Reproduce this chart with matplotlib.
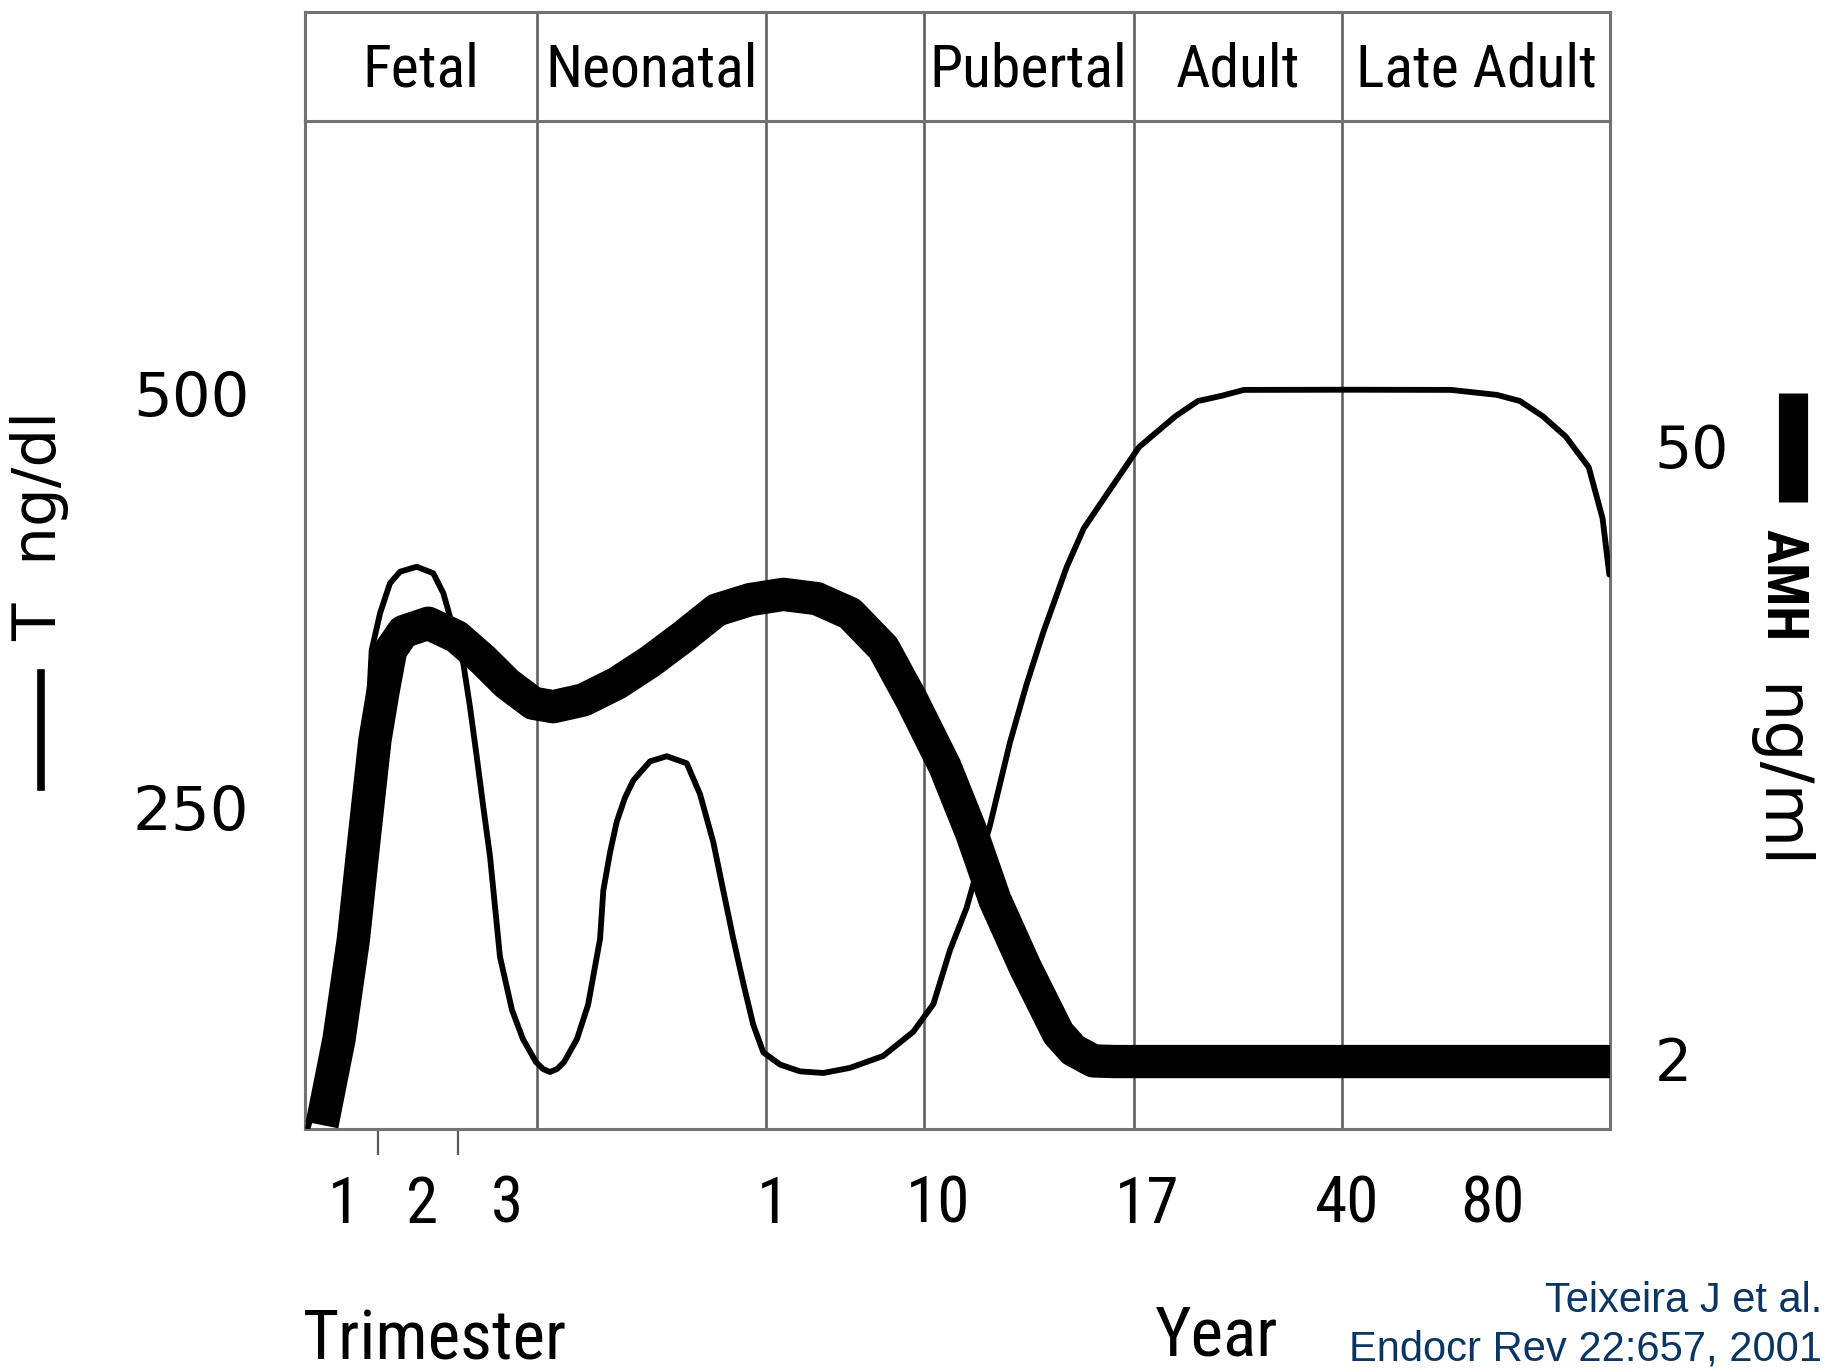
import matplotlib
matplotlib.use("Agg")
import matplotlib.pyplot as plt
from matplotlib.lines import Line2D

# horizontal axis is the (non-linear) life-stage scale of the original: 0..100 across the panel
STAGES = ["Fetal", "Neonatal", "", "Pubertal", "Adult", "Late Adult"]
STAGE_EDGES = [0, 17.8, 35.3, 47.4, 63.5, 79.5, 100]

AGE_LABELS = ["1", "2", "3", "1", "10", "17", "40", "80"]
AGE_POS = [3.0, 9.0, 15.5, 35.9, 48.5, 64.5, 79.8, 91.0]
TRIMESTER_MARKS = [5.6, 11.7]

# testosterone (thin line), ng/dl
T_X = [0.23, 2.15, 3.30, 4.21, 4.75, 5.11, 5.75, 6.51, 7.28, 8.56, 9.83, 10.60,
       12.13, 12.64, 13.16, 13.66, 14.18, 14.56, 14.94, 15.86, 16.70, 17.70,
       18.24, 18.77, 19.31, 19.85, 20.84, 21.69, 22.61, 22.86, 23.37, 23.89,
       24.52, 25.16, 26.44, 27.72, 29.25, 30.27, 31.29, 32.05, 32.82, 33.59,
       34.35, 35.12, 36.40, 37.93, 39.72, 41.76, 44.31, 46.61, 48.15, 49.43,
       50.70, 52.49, 54.02, 55.30, 56.57, 58.37, 59.67, 61.78, 63.91, 66.70,
       68.43, 70.22, 71.95, 80.08, 87.82, 91.33, 93.09, 94.85, 96.61, 98.37,
       99.43, 99.95]
T_NGDL = [56.7, 109.2, 169.6, 230.0, 290.4, 344.7, 366.9, 385.0, 392.0, 395.0,
          391.1, 379.0, 336.7, 310.5, 280.3, 250.1, 219.9, 189.7, 159.5, 127.4,
          109.8, 95.9, 91.7, 89.9, 91.7, 95.9, 109.8, 130.4, 170.3, 199.5,
          222.3, 241.1, 255.6, 266.0, 277.5, 280.6, 276.3, 257.7, 228.6, 199.5,
          170.3, 143.3, 118.4, 101.8, 94.4, 90.3, 89.3, 92.4, 99.6, 114.2,
          130.9, 163.6, 189.1, 238.9, 288.9, 324.2, 355.4, 394.9, 418.1, 442.7,
          467.3, 485.9, 495.1, 498.2, 501.8, 501.9, 501.8, 498.8, 495.1, 485.9,
          473.6, 455.1, 424.2, 390.3]

# AMH (thick line), ng/ml
AMH_X = [1.30, 2.61, 3.70, 4.52, 5.36, 6.00, 6.57, 7.53, 9.45, 11.62, 13.66,
         15.46, 17.49, 19.03, 21.33, 23.89, 26.44, 28.99, 31.55, 34.10, 36.65,
         39.21, 41.76, 44.31, 46.49, 49.04, 51.09, 52.87, 55.17, 57.72, 58.87,
         60.41, 62.0, 100.0]
AMH_NGML = [-3.17, 3.57, 11.31, 19.14, 26.97, 30.88, 34.01, 35.44, 36.10, 35.05,
            33.23, 31.40, 29.84, 29.57, 30.10, 31.40, 33.10, 35.05, 37.14, 37.95,
            38.36, 38.03, 36.87, 34.18, 30.10, 24.88, 19.66, 14.44, 9.22, 4.01,
            2.70, 1.85, 1.8, 1.8]

NARROW = ["Roboto Condensed", "Archivo Narrow", "Liberation Sans Narrow", "DejaVu Sans"]
FRAME = "0.45"
DIV = "0.35"
W, H = 1839, 1372


def fx(px):
    return px / W


def fy(py):
    return 1 - py / H


fig = plt.figure(figsize=(W / 100, H / 100), dpi=100)

left, right, top, hdr, bot = 305, 1610, 11.7, 120.8, 1129.4
ax = fig.add_axes([fx(left), fy(bot), (right - left) / W, (bot - hdr) / H])
hax = fig.add_axes([fx(left), fy(hdr), (right - left) / W, (hdr - top) / H])

# header band with stage names
hax.set_xlim(0, 100)
hax.set_ylim(0, 1)
hax.set_xticks([])
hax.set_yticks([])
for s in hax.spines.values():
    s.set_color(FRAME)
    s.set_linewidth(2.2)
for e in STAGE_EDGES[1:-1]:
    hax.axvline(e, color=DIV, lw=1.8)
for name, a, b in zip(STAGES, STAGE_EDGES[:-1], STAGE_EDGES[1:]):
    hax.text((a + b) / 2, 0.47, name, ha="center", va="center",
             fontsize=43, family=NARROW)

# main panel
ax.set_xlim(0, 100)
ax.set_ylim(55.24, 664.3)
for e in STAGE_EDGES[1:-1]:
    ax.axvline(e, color=DIV, lw=1.8, zorder=1)
ax.plot(T_X, T_NGDL, color="black", lw=4.2, solid_joinstyle="round",
        solid_capstyle="round", zorder=3)

ax.set_yticks([250, 500])
ax.set_yticklabels(["250", "500"], fontsize=44)
ax.tick_params(axis="y", length=0, pad=40)
ax.set_xticks(AGE_POS)
ax.set_xticklabels(AGE_LABELS, fontsize=47, family=NARROW)
ax.tick_params(axis="x", length=0, pad=32)
ax.set_xticks(TRIMESTER_MARKS, minor=True)
ax.tick_params(axis="x", which="minor", length=19, width=1.6, color=DIV,
               direction="out")
for s in ax.spines.values():
    s.set_color(FRAME)
    s.set_linewidth(2.2)

ax2 = ax.twinx()
ax2.set_ylim(-3.51, 75.42)
ax2.plot(AMH_X, AMH_NGML, color="black", lw=24, solid_capstyle="butt",
         solid_joinstyle="round")
ax2.set_yticks([2, 50])
ax2.set_yticklabels(["2", "50"], fontsize=42)
ax2.tick_params(axis="y", length=0, pad=32)
for s in ax2.spines.values():
    s.set_visible(False)

# axis titles and legend keys
fig.text(fx(303), fy(1340), "Trimester", fontsize=50, family=NARROW,
         ha="left", va="center")
fig.text(fx(1155), fy(1337), "Year", fontsize=50, family=NARROW,
         ha="left", va="center")

fig.add_artist(Line2D([fx(41), fx(41)], [fy(673), fy(787)], color="black",
                      lw=5.5, transform=fig.transFigure))
fig.text(fx(40), fy(526), "T  ng/dl", rotation=90, fontsize=44,
         ha="center", va="center")

fig.add_artist(Line2D([fx(1793), fx(1793)], [fy(393), fy(502)], color="black",
                      lw=21, solid_capstyle="butt", transform=fig.transFigure))
fig.text(fx(1782), fy(585), "AMH", rotation=-90, fontsize=41,
         family=NARROW, weight="bold", ha="center", va="center")
fig.text(fx(1777), fy(777), "ng/ml", rotation=-90, fontsize=47,
         ha="center", va="center")

cite = ["Liberation Sans", "DejaVu Sans"]
fig.text(fx(1822), fy(1312), "Teixeira J et al.", fontsize=30, family=cite,
         color="#0b3563", ha="right", va="baseline")
fig.text(fx(1822), fy(1361), "Endocr Rev 22:657, 2001", fontsize=30,
         family=cite, color="#0b3563", ha="right", va="baseline")

fig.savefig("out.png", dpi=100)
